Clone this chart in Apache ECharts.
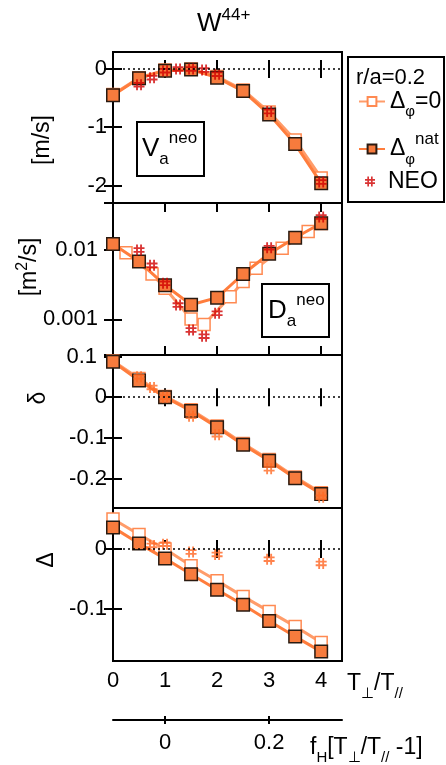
<!DOCTYPE html>
<html><head><meta charset="utf-8">
<script src="https://cdn.jsdelivr.net/npm/echarts@6/dist/echarts.min.js"></script>
<style>html,body{margin:0;padding:0;background:#fff}#c{width:446px;height:765px}</style>
</head><body><div id="c"></div>
<script>
const FONT = 'Liberation Sans, Arial, Helvetica, sans-serif';

// ---- data ----
const xModel = [0, 0.5, 1, 1.5, 2, 2.5, 3, 3.5, 4];
const xNeo = [0.5, 0.75, 1, 1.25, 1.5, 1.75, 2, 3, 4];

// Panel 1: V_a^neo [m/s]
const vDphi0   = [-0.44, -0.15, -0.02, 0.0, -0.13, -0.36, -0.74, -1.22, -1.87];
const vDphiNat = [-0.45, -0.16, -0.03, -0.01, -0.15, -0.38, -0.78, -1.29, -1.96];
const vNeo     = [-0.27, -0.15, -0.03, 0.0, 0.0, -0.02, -0.09, -0.73, -1.94];

// Panel 2: D_a^neo [m^2/s]
const xDDphi0  = [0, 0.25, 0.75, 1, 1.5, 1.75, 2.25, 2.5, 2.75, 3.25, 3.75, 4];
const dDphi0   = [0.0122, 0.0091, 0.0045, 0.0028, 0.00101, 0.00084, 0.00212, 0.0035, 0.00545, 0.0106, 0.0184, 0.024];
const dDphiNat = [0.0122, 0.0068, 0.0031, 0.00162, 0.00205, 0.0045, 0.0088, 0.015, 0.0243];
const dNeo     = [0.0100, 0.0060, 0.0033, 0.0016, 0.00070, 0.00057, 0.00122, 0.0108, 0.030];

// Panel 3: delta
const deltaDphi0   = [0.089, 0.046, 0.002, -0.031, -0.071, -0.114, -0.153, -0.196, -0.235];
const deltaDphiNat = [0.087, 0.041, 0.000, -0.034, -0.074, -0.117, -0.156, -0.199, -0.238];
const xDeltaNeo    = [0.5, 0.75, 1, 1.5, 2, 3, 4];
const deltaNeo     = [0.05, 0.024, 0.0, -0.047, -0.092, -0.176, -0.246];

// Panel 4: Delta
const bigDDphi0   = [0.050, 0.024, 0.0, -0.028, -0.053, -0.079, -0.104, -0.129, -0.156];
const bigDDphiNat = [0.036, 0.009, -0.016, -0.042, -0.068, -0.093, -0.120, -0.146, -0.171];
const xBigDNeo    = [0.75, 1, 1.5, 2, 3, 4];
const bigDNeo     = [0.006, 0.008, -0.005, -0.009, -0.017, -0.024];

// tick values / labels
const xTicks = [0, 1, 2, 3, 4];
const xInnerTicks = [1, 2, 3, 4];
const fhTicks = [0, 0.2];
const fhTickLabels = ['0', '0.2'];
const vTicks = [-2, -1, 0];
const dTickValues = [0.001, 0.01];
const dTickLabels = ['0.001', '0.01'];
const deltaTicks = [-0.2, -0.1, 0, 0.1];
const bigDTicks = [-0.1, 0];

const zip = (xs, ys) => xs.map((x, i) => [x, ys[i]]);

// ---- layout ----
const GL = 113, GW = 229;
const panels = [
  {top: 52, h: 151, type: 'value', min: -2.3, max: 0.29, ticks: vTicks},
  {top: 203, h: 152, type: 'log', min: 0.000305, max: 0.0476},
  {top: 355, h: 153, type: 'value', min: -0.2723, max: 0.1037, ticks: deltaTicks},
  {top: 508, h: 153, type: 'value', min: -0.1867, max: 0.0683, ticks: bigDTicks}
];
const XMAX = 4.4;
const FH = 0.1;
const TFS = 22;

const tickStyle = {color: '#000', width: 2};
const grids = panels.map(p => ({left: GL, width: GW, top: p.top, height: p.h, show: true, borderColor: '#000', borderWidth: 2, backgroundColor: 'transparent'}));
grids.push({left: GL, width: GW, top: 719, height: 1, show: false});

const xAxes = [], yAxes = [];
panels.forEach((p, i) => {
  const common = {type: 'value', gridIndex: i, min: 0, max: XMAX, axisLine: {show: false}, splitLine: {show: false},
    axisTick: {show: true, inside: true, length: 9, lineStyle: tickStyle, customValues: xInnerTicks}};
  xAxes.push(Object.assign({}, common, {position: 'bottom',
    axisLabel: i === 3 ? {show: true, customValues: xTicks, margin: 9, fontSize: TFS, color: '#000', fontFamily: FONT} : {show: false}}));
  xAxes.push(Object.assign({}, common, {position: 'top', axisLabel: {show: false}}));

  const yc = {type: p.type, gridIndex: i, min: p.min, max: p.max, axisLine: {show: false}, splitLine: {show: false}};
  let lt, lab;
  if (p.type === 'log') {
    yc.logBase = 10;
    lt = {show: true, inside: true, length: 9, lineStyle: tickStyle};
    lab = {show: true, margin: 15, fontSize: TFS, color: '#000', fontFamily: FONT,
      formatter: v => { for (let k = 0; k < dTickValues.length; k++) { if (Math.abs(v / dTickValues[k] - 1) < 1e-6) return dTickLabels[k]; } return ''; }};
  } else {
    lt = {show: true, inside: true, length: 9, lineStyle: tickStyle, customValues: p.ticks};
    lab = {show: true, customValues: p.ticks, margin: 6, fontSize: TFS, color: '#000', fontFamily: FONT,
      formatter: v => (i === 2 && Math.abs(v - 0.1) < 1e-9) ? '{p|0.1}' : String(v),
      rich: {p: {fontSize: TFS, fontFamily: FONT, color: '#000', padding: [0, 10, 0, 0]}}};
  }
  yAxes.push(Object.assign({}, yc, {position: 'left', axisTick: lt, axisLabel: lab}));
  yAxes.push(Object.assign({}, yc, {position: 'right', axisTick: lt, axisLabel: {show: false}}));
});
// secondary f_H axis
xAxes.push({type: 'value', gridIndex: 4, position: 'bottom', min: FH * (0 - 1), max: FH * (XMAX - 1),
  axisLine: {show: true, onZero: false, lineStyle: {color: '#000', width: 2}}, splitLine: {show: false},
  axisTick: {show: true, inside: false, length: 4, lineStyle: tickStyle, customValues: fhTicks},
  axisLabel: {show: true, customValues: fhTicks, margin: 12, fontSize: TFS, color: '#000', fontFamily: FONT,
    formatter: v => { const k = fhTicks.findIndex(t => Math.abs(t - v) < 1e-9); return k >= 0 ? fhTickLabels[k] : ''; }}});
xAxes.push({type: 'value', gridIndex: 4, position: 'top', min: FH * (0 - 1), max: FH * (XMAX - 1),
  axisLine: {show: false}, splitLine: {show: false},
  axisTick: {show: true, inside: false, length: 4, lineStyle: tickStyle, customValues: fhTicks},
  axisLabel: {show: false}});
yAxes.push({type: 'value', gridIndex: 4, show: false, min: 0, max: 1});

// ---- series ----
const HASH = 'path://M2.8,0h2v12h-2z M7.2,0h2v12h-2z M0,3h12v2h-12z M0,7h12v2h-12z';
const N0 = 'Δφ=0', NN = 'Δφnat', NE = 'NEO';
const zeroLine = {silent: true, symbol: ['none', 'none'], label: {show: false}, animation: false,
  lineStyle: {color: '#000', type: [2, 3], width: 1.5}, emphasis: {disabled: true}, data: [{yAxis: 0}]};
function openS(i, data, mark) {
  const s = {name: N0, type: 'line', xAxisIndex: i * 2, yAxisIndex: i * 2, data, symbol: 'rect', symbolSize: 12,
    itemStyle: {color: '#fff', borderColor: '#ff8a52', borderWidth: 1.5}, lineStyle: {color: '#ff9c6a', width: 3}, z: 2};
  if (mark) s.markLine = zeroLine;
  return s;
}
function filledS(i, data) {
  return {name: NN, type: 'line', xAxisIndex: i * 2, yAxisIndex: i * 2, data, symbol: 'rect', symbolSize: 12.5,
    itemStyle: {color: '#f77b3d', borderColor: '#2a1a10', borderWidth: 1.5}, lineStyle: {color: '#ff7d3d', width: 3}, z: 3};
}
function neoS(i, data, color) {
  return {name: NE, type: 'scatter', xAxisIndex: i * 2, yAxisIndex: i * 2, data, symbol: HASH, symbolSize: 11,
    itemStyle: {color}, z: 4};
}
const series = [
  openS(0, zip(xModel, vDphi0), true), filledS(0, zip(xModel, vDphiNat)), neoS(0, zip(xNeo, vNeo), '#d00000'),
  openS(1, zip(xDDphi0, dDphi0), false), filledS(1, zip(xModel, dDphiNat)), neoS(1, zip(xNeo, dNeo), '#d00000'),
  openS(2, zip(xModel, deltaDphi0), true), filledS(2, zip(xModel, deltaDphiNat)), neoS(2, zip(xDeltaNeo, deltaNeo), '#ff6a24'),
  openS(3, zip(xModel, bigDDphi0), true), filledS(3, zip(xModel, bigDDphiNat)), neoS(3, zip(xBigDNeo, bigDNeo), '#ff6420')
];

// ---- text styles ----
const tok = (fs, lh, va, extra) => Object.assign({fontSize: fs, lineHeight: lh, fontFamily: FONT, color: '#000', fill: '#000', verticalAlign: va}, extra || {});
const legRich = {m: tok(23, 36, 'middle'), sub: tok(15, 14, 'bottom'), sup: tok(17, 14, 'top'), n: tok(23, 24, 'middle', {padding: [0, 0, 0, 8]})};

const legends = [
  {data: [N0], left: 358, top: 90, orient: 'vertical', itemWidth: 26, itemHeight: 11, selectedMode: false, padding: 0, z: 20,
    formatter: () => '{m|Δ}{sub|φ}{m|=0}', textStyle: {rich: legRich}},
  {data: [NN], left: 358, top: 131, orient: 'vertical', itemWidth: 26, itemHeight: 11, selectedMode: false, padding: 0, z: 20,
    formatter: () => '{m|Δ}{sub|φ}{sup|nat}', textStyle: {rich: legRich}},
  {data: [NE], left: 365, top: 170, orient: 'vertical', itemWidth: 10, itemHeight: 10, selectedMode: false, padding: 0, z: 20,
    formatter: () => '{n|NEO}', textStyle: {rich: legRich}}
];

function txt(x, y, text, rich, rot, align) {
  const el = {type: 'text', x, y, z: 10,
    style: {text, rich, fontFamily: FONT, fill: '#000', align: align || 'left', textAlign: align || 'left', verticalAlign: 'middle', textVerticalAlign: 'middle'}};
  if (rot) el.rotation = rot;
  return el;
}
function box(x, y, w, h, fill) {
  return {type: 'rect', z: 1, shape: {x, y, width: w, height: h}, style: {fill: fill || 'none', stroke: '#000', lineWidth: 2}};
}
const labRich = {m: tok(23, 30, 'middle'), s: tok(16, 14, 'top'), b: tok(15, 15, 'bottom')};
const boxRich = {m: tok(26, 38, 'middle'), b: tok(17, 16, 'bottom'), t: tok(17, 16, 'top')};
const axRich = {m: tok(23, 34, 'middle'), b: tok(15, 15, 'bottom')};
const titleRich = {m: tok(26, 34, 'middle'), s: tok(17, 14, 'top')};

const graphics = [
  txt(197, 24, '{m|W}{s|44+}', titleRich),
  box(348, 57, 96, 145),
  txt(356, 78, '{m|r/a=0.2}', {m: tok(22, 24, 'middle')}),
  txt(43, 140, '{m|[m/s]}', labRich, Math.PI / 2, 'center'),
  txt(30, 267, '{m|[m}{s|2}{m|/s]}', labRich, Math.PI / 2, 'center'),
  txt(39, 398, '{m|δ}', labRich, Math.PI / 2, 'center'),
  txt(47, 560, '{m|Δ}', labRich, Math.PI / 2, 'center'),
  box(137, 122, 67, 54, '#fff'),
  txt(142, 149, '{m|V}{b|a}{t|neo}', boxRich),
  box(262, 284, 67, 53, '#fff'),
  txt(268, 311, '{m|D}{b|a}{t|neo}', boxRich),
  txt(347, 684, '{m|T}{b|⊥}{m|/T}{b|//}', axRich),
  txt(310, 748, '{m|f}{b|H}{m|[T}{b|⊥}{m|/T}{b|//}{m| -1]}', axRich)
];

const chart = echarts.init(document.getElementById('c'), null, {renderer: 'canvas'});
chart.setOption({
  animation: false,
  backgroundColor: '#fff',
  textStyle: {fontFamily: FONT},
  grid: grids,
  xAxis: xAxes,
  yAxis: yAxes,
  legend: legends,
  series,
  graphic: graphics
});
</script></body></html>
